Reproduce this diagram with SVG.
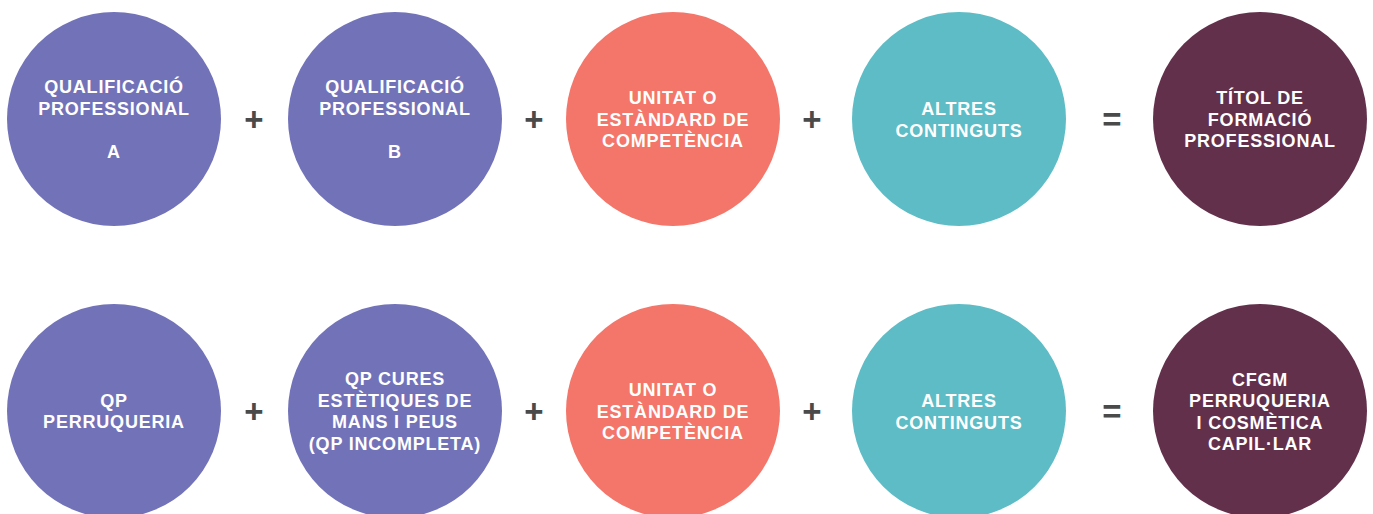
<svg xmlns="http://www.w3.org/2000/svg" width="1373" height="514" viewBox="0 0 1373 514">
<style>
.t{font-family:"Liberation Sans",Arial,sans-serif;font-weight:bold;font-size:18px;letter-spacing:0.8px;fill:#ffffff;text-anchor:middle}
.op{font-family:"Liberation Sans",Arial,sans-serif;font-weight:bold;font-size:33px;fill:#4a4a4a;text-anchor:middle}
.pu{fill:#7272b9}.co{fill:#f47569}.te{fill:#5dbcc5}.ma{fill:#63304c}
</style>
<rect width="1373" height="514" fill="#ffffff"/>
<g id="row1">
<g id="n1"><circle class="pu" cx="114" cy="119" r="107"/><text class="t" x="114" y="93">QUALIFICACIÓ</text><text class="t" x="114" y="115">PROFESSIONAL</text><text class="t" x="114" y="158">A</text></g>
<g id="n2"><circle class="pu" cx="395" cy="119" r="107"/><text class="t" x="395" y="93">QUALIFICACIÓ</text><text class="t" x="395" y="115">PROFESSIONAL</text><text class="t" x="395" y="158">B</text></g>
<g id="n3"><circle class="co" cx="673" cy="119" r="107"/><text class="t" x="673" y="104">UNITAT O</text><text class="t" x="673" y="126">ESTÀNDARD DE</text><text class="t" x="673" y="147">COMPETÈNCIA</text></g>
<g id="n4"><circle class="te" cx="959" cy="119" r="107"/><text class="t" x="959" y="115">ALTRES</text><text class="t" x="959" y="137">CONTINGUTS</text></g>
<g id="n5"><circle class="ma" cx="1260" cy="119" r="107"/><text class="t" x="1260" y="104">TÍTOL DE</text><text class="t" x="1260" y="126">FORMACIÓ</text><text class="t" x="1260" y="147">PROFESSIONAL</text></g>
</g>
<g id="row2">
<g id="m1"><circle class="pu" cx="114" cy="411" r="107"/><text class="t" x="114" y="407">QP</text><text class="t" x="114" y="428">PERRUQUERIA</text></g>
<g id="m2"><circle class="pu" cx="395" cy="411" r="107"/><text class="t" x="395" y="385">QP CURES</text><text class="t" x="395" y="407">ESTÈTIQUES DE</text><text class="t" x="395" y="428">MANS I PEUS</text><text class="t" x="395" y="450">(QP INCOMPLETA)</text></g>
<g id="m3"><circle class="co" cx="673" cy="411" r="107"/><text class="t" x="673" y="396">UNITAT O</text><text class="t" x="673" y="418">ESTÀNDARD DE</text><text class="t" x="673" y="439">COMPETÈNCIA</text></g>
<g id="m4"><circle class="te" cx="959" cy="411" r="107"/><text class="t" x="959" y="407">ALTRES</text><text class="t" x="959" y="429">CONTINGUTS</text></g>
<g id="m5"><circle class="ma" cx="1260" cy="411" r="107"/><text class="t" x="1260" y="386">CFGM</text><text class="t" x="1260" y="407">PERRUQUERIA</text><text class="t" x="1260" y="429">I COSMÈTICA</text><text class="t" x="1260" y="450">CAPIL·LAR</text></g>
</g>
<g id="connectors">
<text class="op" x="254" y="131">+</text><text class="op" x="534" y="131">+</text><text class="op" x="812" y="131">+</text><text class="op" x="1112" y="131">=</text>
<text class="op" x="254" y="423">+</text><text class="op" x="534" y="423">+</text><text class="op" x="812" y="423">+</text><text class="op" x="1112" y="423">=</text>
</g>
</svg>
